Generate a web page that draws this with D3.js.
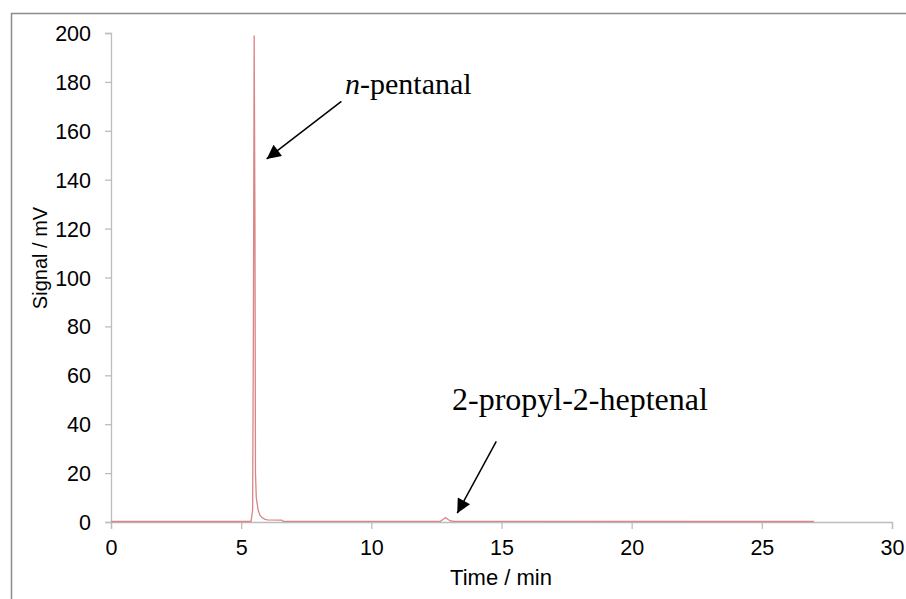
<!DOCTYPE html>
<html>
<head>
<style>
  body { margin:0; background:#fff; }
  .tick text { font-family:"Liberation Sans", Arial, sans-serif; }
</style>
<script src="https://d3js.org/d3.v7.min.js"></script>
</head>
<body>
<div id="chart"></div>
<script>
// chromatogram trace
var timeMin = [0, 5.38, 5.44, 5.47, 5.5, 5.53, 5.55, 5.58, 5.65, 5.72, 5.8, 5.9, 6.0, 6.55, 6.62, 12.65, 12.75, 12.85, 12.95, 13.05, 13.2, 27.0];
var signalMv = [0.2, 0.2, 5, 80, 199, 120, 20, 10, 5, 2.8, 1.8, 1.2, 0.9, 0.8, 0.25, 0.25, 1.0, 1.8, 1.0, 0.4, 0.25, 0.2];
var xTicks = [0, 5, 10, 15, 20, 25, 30];
var yTicks = [0, 20, 40, 60, 80, 100, 120, 140, 160, 180, 200];
// annotation labels: text, arrow start and arrow tip in data units
var labels = ["n-pentanal", "2-propyl-2-heptenal"];
var arrowFrom = [[8.85, 172], [14.8, 33]];
var arrowTo = [[5.98, 148.5], [13.3, 3.6]];

const width = 906, height = 599;
const svg = d3.select("#chart").append("svg")
    .attr("width", width)
    .attr("height", height);

// outer frame of the pasted figure
svg.append("rect")
    .attr("x", 11.5).attr("y", 13.5)
    .attr("width", width + 10).attr("height", height + 10)
    .attr("fill", "none")
    .attr("stroke", "#8c8c8c")
    .attr("stroke-width", 1.5);

var xScale = d3.scaleLinear().domain([0, 30]).range([111, 892]);
var yScale = d3.scaleLinear().domain([0, 200]).range([522, 33]);

var xAxis = d3.axisBottom(xScale).tickValues(xTicks).tickSize(7).tickPadding(12);
var yAxis = d3.axisLeft(yScale).tickValues(yTicks).tickSize(6).tickPadding(14);

var gx = svg.append("g")
    .attr("transform", "translate(0," + yScale(0) + ")")
    .call(xAxis);
var gy = svg.append("g")
    .attr("transform", "translate(" + xScale(0) + ",0)")
    .call(yAxis);

[gx, gy].forEach(function(g) {
  g.select(".domain").attr("stroke", "#bdbdbd").attr("stroke-width", 1.3);
  g.selectAll(".tick line").attr("stroke", "#bdbdbd").attr("stroke-width", 1.3);
  g.selectAll(".tick text")
      .attr("fill", "#000")
      .style("font-size", "21.5px");
});
gx.selectAll(".tick text").attr("dy", "0.71em").attr("y", 18);
gy.selectAll(".tick text").attr("dy", "0.35em");

// axis titles
svg.append("text")
    .attr("x", 501).attr("y", 585)
    .attr("text-anchor", "middle")
    .style("font-family", "Liberation Sans, Arial, sans-serif")
    .style("font-size", "22px")
    .text("Time / min");

svg.append("text")
    .attr("transform", "translate(47,258) rotate(-90)")
    .attr("text-anchor", "middle")
    .style("font-family", "Liberation Sans, Arial, sans-serif")
    .style("font-size", "20px")
    .text("Signal / mV");

// the trace
var line = d3.line()
    .x(function(d, i) { return xScale(timeMin[i]); })
    .y(function(d) { return yScale(d); });

svg.append("path")
    .datum(signalMv)
    .attr("fill", "none")
    .attr("stroke", "#d98585")
    .attr("stroke-width", 1.3)
    .attr("d", line);

// arrow heads
svg.append("defs").append("marker")
    .attr("id", "head")
    .attr("viewBox", "0 0 10 10")
    .attr("refX", 10).attr("refY", 5)
    .attr("markerWidth", 17).attr("markerHeight", 14)
    .attr("markerUnits", "userSpaceOnUse")
    .attr("orient", "auto")
  .append("path")
    .attr("d", "M0,0L10,5L0,10Z")
    .attr("fill", "#000");

labels.forEach(function(t, i) {
  svg.append("line")
      .attr("x1", xScale(arrowFrom[i][0])).attr("y1", yScale(arrowFrom[i][1]))
      .attr("x2", xScale(arrowTo[i][0])).attr("y2", yScale(arrowTo[i][1]))
      .attr("stroke", "#000")
      .attr("stroke-width", 1.5)
      .attr("marker-end", "url(#head)");
});

var t1 = svg.append("text")
    .attr("x", 345).attr("y", 94)
    .style("font-family", "Liberation Serif, Times New Roman, serif")
    .style("font-size", "30px");
t1.append("tspan").style("font-style", "italic").text(labels[0].slice(0, 1));
t1.append("tspan").text(labels[0].slice(1));

svg.append("text")
    .attr("x", 452).attr("y", 410)
    .style("font-family", "Liberation Serif, Times New Roman, serif")
    .style("font-size", "32px")
    .text(labels[1]);
</script>
</body>
</html>
